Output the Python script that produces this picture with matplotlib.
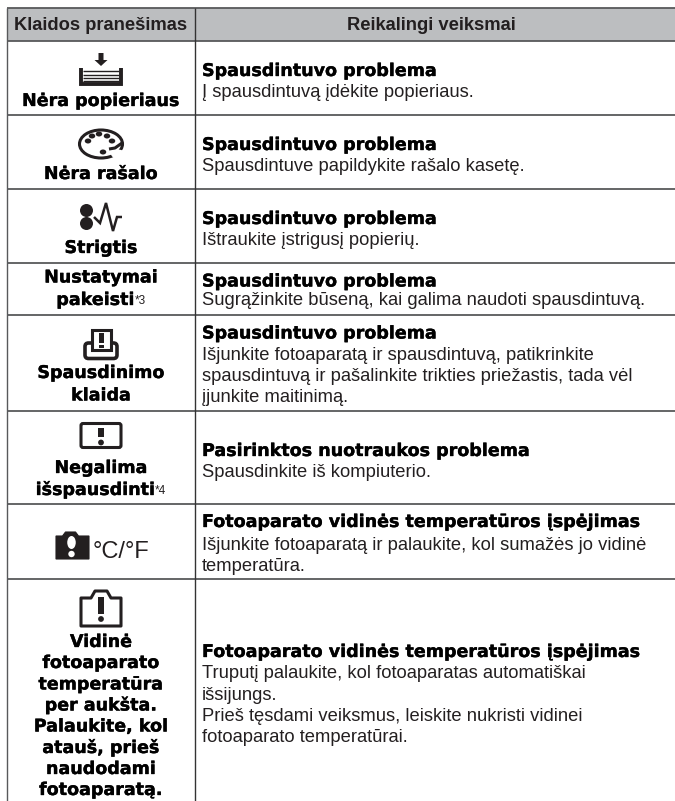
import matplotlib
matplotlib.use("Agg")
import matplotlib.pyplot as plt
import matplotlib.patheffects as pe
from matplotlib.patches import Rectangle, Circle, Ellipse, Polygon, FancyBboxPatch

W, H = 675, 801
INK = "#231f20"
LINE = "#58595b"
HEAD_BG = "#bcbec0"
BODY = "Liberation Sans"
BOLD = "DejaVu Sans"

header_labels = ["Klaidos pranešimas", "Reikalingi veiksmai"]
row_lines = [8, 41, 115, 189, 263, 315, 410.5, 504, 578.5]
col_lines = [7, 195]

left_labels = [
    ("Nėra popieriaus", 106, None), ("Nėra rašalo", 179, None), ("Strigtis", 253, None),
    ("Nustatymai", 282.5, None), ("pakeisti", 305, "*3"),
    ("Spausdinimo", 378, None), ("klaida", 400.5, None),
    ("Negalima", 473, None), ("išspausdinti", 495, "*4"),
    ("Vidinė", 647, None), ("fotoaparato", 668, None), ("temperatūra", 689.5, None),
    ("per aukšta.", 710.5, None), ("Palaukite, kol", 731.5, None), ("atauš, prieš", 753, None),
    ("naudodami", 774, None), ("fotoaparatą.", 795, None),
]
right_heads = [
    ("Spausdintuvo problema", 76), ("Spausdintuvo problema", 150),
    ("Spausdintuvo problema", 224), ("Spausdintuvo problema", 286.5),
    ("Spausdintuvo problema", 338.5), ("Pasirinktos nuotraukos problema", 456),
    ("Fotoaparato vidinės temperatūros įspėjimas", 527),
    ("Fotoaparato vidinės temperatūros įspėjimas", 657),
]
right_body = [
    ("Į spausdintuvą įdėkite popieriaus.", 97),
    ("Spausdintuve papildykite rašalo kasetę.", 171),
    ("Ištraukite įstrigusį popierių.", 245),
    ("Sugrąžinkite būseną, kai galima naudoti spausdintuvą.", 305),
    ("Išjunkite fotoaparatą ir spausdintuvą, patikrinkite", 359.5),
    ("spausdintuvą ir pašalinkite trikties priežastis, tada vėl", 381),
    ("įjunkite maitinimą.", 402.5),
    ("Spausdinkite iš kompiuterio.", 477),
    ("Išjunkite fotoaparatą ir palaukite, kol sumažės jo vidinė", 550),
    ("temperatūra.", 571),
    ("Truputį palaukite, kol fotoaparatas automatiškai", 678),
    ("išsijungs.", 699.5),
    ("Prieš tęsdami veiksmus, leiskite nukristi vidinei", 721),
    ("fotoaparato temperatūrai.", 742.5),
]

fig = plt.figure(figsize=(W / 100, H / 100), dpi=100)
ax = fig.add_axes([0, 0, 1, 1])
ax.set_xlim(0, W)
ax.set_ylim(H, 0)
ax.axis("off")

ax.add_patch(Rectangle((col_lines[0], row_lines[0]), W - col_lines[0],
                       row_lines[1] - row_lines[0], fc=HEAD_BG, ec="none"))
for y in row_lines:
    ax.plot([col_lines[0], W], [y, y], color=LINE, lw=1.3, solid_capstyle="butt")
for x in col_lines:
    ax.plot([x, x], [row_lines[0], H], color=LINE if x != col_lines[1] else "#333333",
            lw=1.0, solid_capstyle="butt")

ax.text(101, 30, header_labels[0], family=BODY, weight="bold", size=13.2, color=INK, ha="center", va="baseline")
ax.text(431, 30, header_labels[1], family=BODY, weight="bold", size=13.2, color=INK, ha="center", va="baseline")

renderer = fig.canvas.get_renderer()
HEAD_KW = dict(family=BOLD, weight="bold", color="black", va="baseline",
               path_effects=[pe.withStroke(linewidth=0.25, foreground="black")])
for s, y, sup in left_labels:
    t = ax.text(101, y, s, size=12.6, ha="center", **HEAD_KW)
    if sup:
        t2 = ax.text(0, y - 1, sup, family=BODY, size=8.5, color=INK, ha="left", va="baseline")
        w1 = t.get_window_extent(renderer).width
        w2 = t2.get_window_extent(renderer).width
        left = 101 - (w1 + w2) / 2
        t.set_ha("left"); t.set_x(left)
        t2.set_x(left + w1)
for s, y in right_heads:
    ax.text(202, y, s, size=12.6, ha="left", **HEAD_KW)
for s, y in right_body:
    ax.text(202, y, s, family=BODY, size=13.2, color=INK, ha="left", va="baseline")


def line(xs, ys, lw=2.0, cap="butt", join="miter"):
    ax.plot(xs, ys, color=INK, lw=lw, solid_capstyle=cap, solid_joinstyle=join)


def paper_icon(cx, cy):
    ax.add_patch(Polygon([(cx - 2.5, cy - 27), (cx + 2.5, cy - 27), (cx + 2.5, cy - 20), (cx + 6.5, cy - 20),
                          (cx, cy - 14), (cx - 6.5, cy - 20), (cx - 2.5, cy - 20)], fc=INK, ec="none"))
    line([cx - 20, cx - 20, cx + 20, cx + 20], [cy - 12, cy + 3.5, cy + 3.5, cy - 12], lw=2.8)
    for dy in (-9, -5.5, -2, 0.8):
        line([cx - 18, cx + 18], [cy + dy, cy + dy], lw=1.0)


def palette_icon(cx, cy):
    ax.add_patch(Ellipse((cx, cy), 43, 28, fc="white", ec=INK, lw=2.2))
    ax.add_patch(Ellipse((cx + 17, cy + 10), 14, 9, fc="white", ec="none", zorder=3))
    line([cx + 8, cx + 14, cx + 21], [cy + 5, cy + 4, cy - 1], lw=2.2)
    for dx, dy in [(-13, -3), (-9, -8), (-2, -10), (6, -8), (11, -3), (2, 8)]:
        ax.add_patch(Ellipse((cx + dx, cy + dy), 6.5, 5, fc=INK, ec="none", zorder=4))


def jam_icon(cx, cy):
    for dy in (-6.5, 6.5):
        ax.add_patch(Circle((cx - 14.5, cy + dy), 6.5, fc=INK, ec="none"))
    line([cx - 7, cx - 1, cx + 5, cx + 12, cx + 16, cx + 21],
         [cy, cy + 6, cy - 14, cy + 14, cy, cy], lw=1.8)


def print_err_icon(cx, cy):
    ax.add_patch(FancyBboxPatch((cx - 16, cy), 32, 15.5, boxstyle="round,pad=0,rounding_size=3.5",
                                fc="white", ec=INK, lw=2.6))
    ax.add_patch(Rectangle((cx - 9.5, cy - 13.5), 19.5, 20.5, fc="white", ec=INK, lw=2.2))
    ax.add_patch(Rectangle((cx - 2.2, cy - 10.5), 4.8, 10, fc=INK))
    ax.add_patch(Rectangle((cx - 2.2, cy + 1.5), 4.8, 3.2, fc=INK))


def bang(cx, top, bot, w=5.5):
    ax.add_patch(Rectangle((cx - w / 2, top), w, bot - top - 5.5, fc=INK))
    ax.add_patch(Circle((cx, bot), w / 1.9, fc=INK))


def card_icon(cx, cy):
    ax.add_patch(FancyBboxPatch((cx - 20, cy - 12), 40, 24, boxstyle="round,pad=0,rounding_size=2",
                                fc="white", ec=INK, lw=2.2))
    bang(cx, cy - 8, cy + 7)


def camera_filled(cx, cy):
    ax.add_patch(Polygon([(cx - 16.5, cy - 10), (cx - 10, cy - 10), (cx - 7, cy - 14), (cx + 3, cy - 14),
                          (cx + 6, cy - 10), (cx + 16.5, cy - 10), (cx + 16.5, cy + 13), (cx - 16.5, cy + 13)],
                         fc=INK, ec=INK, lw=0.8))
    ax.add_patch(Ellipse((cx - 1, cy - 3.5), 8.5, 13, fc="white", ec="none"))
    ax.add_patch(Circle((cx - 1, cy + 8), 3.2, fc="white", ec="none"))


def camera_outline(cx, cy):
    ax.add_patch(Polygon([(cx - 20, cy - 10), (cx - 10, cy - 10), (cx - 6, cy - 17), (cx + 6, cy - 17),
                          (cx + 10, cy - 10), (cx + 20, cy - 10), (cx + 20, cy + 18), (cx - 20, cy + 18)],
                         closed=True, fc="white", ec=INK, lw=2.2, joinstyle="round"))
    bang(cx, cy - 11, cy + 11)


paper_icon(101, 80)
palette_icon(101, 144)
jam_icon(101, 217)
print_err_icon(101, 343)
card_icon(101, 435.5)
camera_filled(72.5, 546)
ax.text(120.5, 558, "°C/°F", family=BODY, size=17, color=INK, ha="center", va="baseline")
camera_outline(101, 608)

fig.savefig("out.png", dpi=100)
